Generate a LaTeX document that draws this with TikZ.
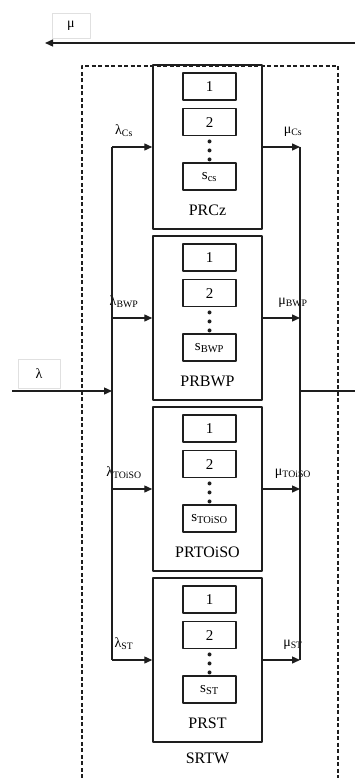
\documentclass[tikz,border=0pt]{standalone}
\usepackage{fontspec}
\setmainfont{Liberation Serif}
\usetikzlibrary{arrows.meta,positioning}
\definecolor{Lline}{HTML}{1E1E1E}
\definecolor{Tagline}{HTML}{E0E0E0}

\tikzset{
  stage/.style={draw=Lline,line width=1.5pt,minimum width=109pt,minimum height=164pt,inner sep=0pt},
  cell/.style={draw=Lline,line width=1.6pt,minimum width=53pt,minimum height=27pt,inner sep=3pt,
    font=\fontsize{15}{17}\selectfont},
  stagename/.style={inner sep=0pt,font=\fontsize{16}{18}\selectfont},
  flow/.style={draw=Lline,line width=1.4pt,-{Triangle[length=8pt,width=7pt]}},
  bus/.style={draw=Lline,line width=1.4pt},
  rate/.style={inner sep=0pt,font=\fontsize{14}{16}\selectfont},
  tag/.style={draw=Tagline,line width=0.6pt,inner sep=0pt,font=\fontsize{14}{16}\selectfont},
}

\begin{document}
\begin{tikzpicture}[x=1pt,y=-1pt,line join=round]
\useasboundingbox (0,0) rectangle (355,778);

% ---- the system boundary (open at the bottom) ----
\draw[Lline,line width=1.3pt,dash pattern=on 4pt off 2.5pt]
  (82,778) -- (82,66) -- (338,66) -- (338,778);

% ---- the four stages ----
\foreach \k/\y/\nm/\sb/\cs in {1/147/PRCz/Cs/cs, 2/318/PRBWP/BWP/BWP,
                               3/489/PRTOiSO/TOiSO/TOiSO, 4/660/PRST/ST/ST}{
  \node[stage] (st\k) at (207.5,\y) {};
  \node[cell,below=8pt of st\k.north,xshift=2pt] (one\k) {1};
  \node[cell,below=7pt of one\k] (two\k) {2};
  \foreach \d in {5,14,23}
    \fill[Lline] (two\k.south) ++(0,\d) circle[radius=2];
  \node[cell,below=26pt of two\k] (s\k) {s\textsubscript{\cs}};
  \node[stagename,above=14pt of st\k.south] (nm\k) {\nm};
  \coordinate (lb\k) at (112,\y);
  \coordinate (rb\k) at (300,\y);
  \draw[flow] (lb\k) -- (st\k.west);
  \draw[flow] (st\k.east) -- (rb\k);
  \node[rate,above=10pt of lb\k,xshift=12pt] (lam\k) {λ\textsubscript{\sb}};
  \node[rate,above=10pt of rb\k,xshift=-7pt] (mu\k) {μ\textsubscript{\sb}};}

\node[stagename,below=10pt of st4.south] (srtw) {SRTW};

% ---- buses ----
\draw[bus] (lb1) -- (lb4);
\draw[bus] (rb1) -- (rb4);

% ---- arrival and departure ----
\coordinate (lamin) at (12,391);
\coordinate (lbin) at (112,391);
\coordinate (rbout) at (300,391);
\coordinate (qout) at (355,391);
\draw[flow] (lamin) -- (lbin);
\draw[bus] (rbout) -- (qout);
\node[tag,minimum width=42pt,minimum height=29pt] (lamtag) at (39,374) {λ};

\coordinate (muin) at (355,43);
\coordinate (muend) at (45,43);
\draw[flow] (muin) -- (muend);
\node[tag,minimum width=38pt,minimum height=25pt] (mutag) at (71,26) {μ};
\end{tikzpicture}
\end{document}
